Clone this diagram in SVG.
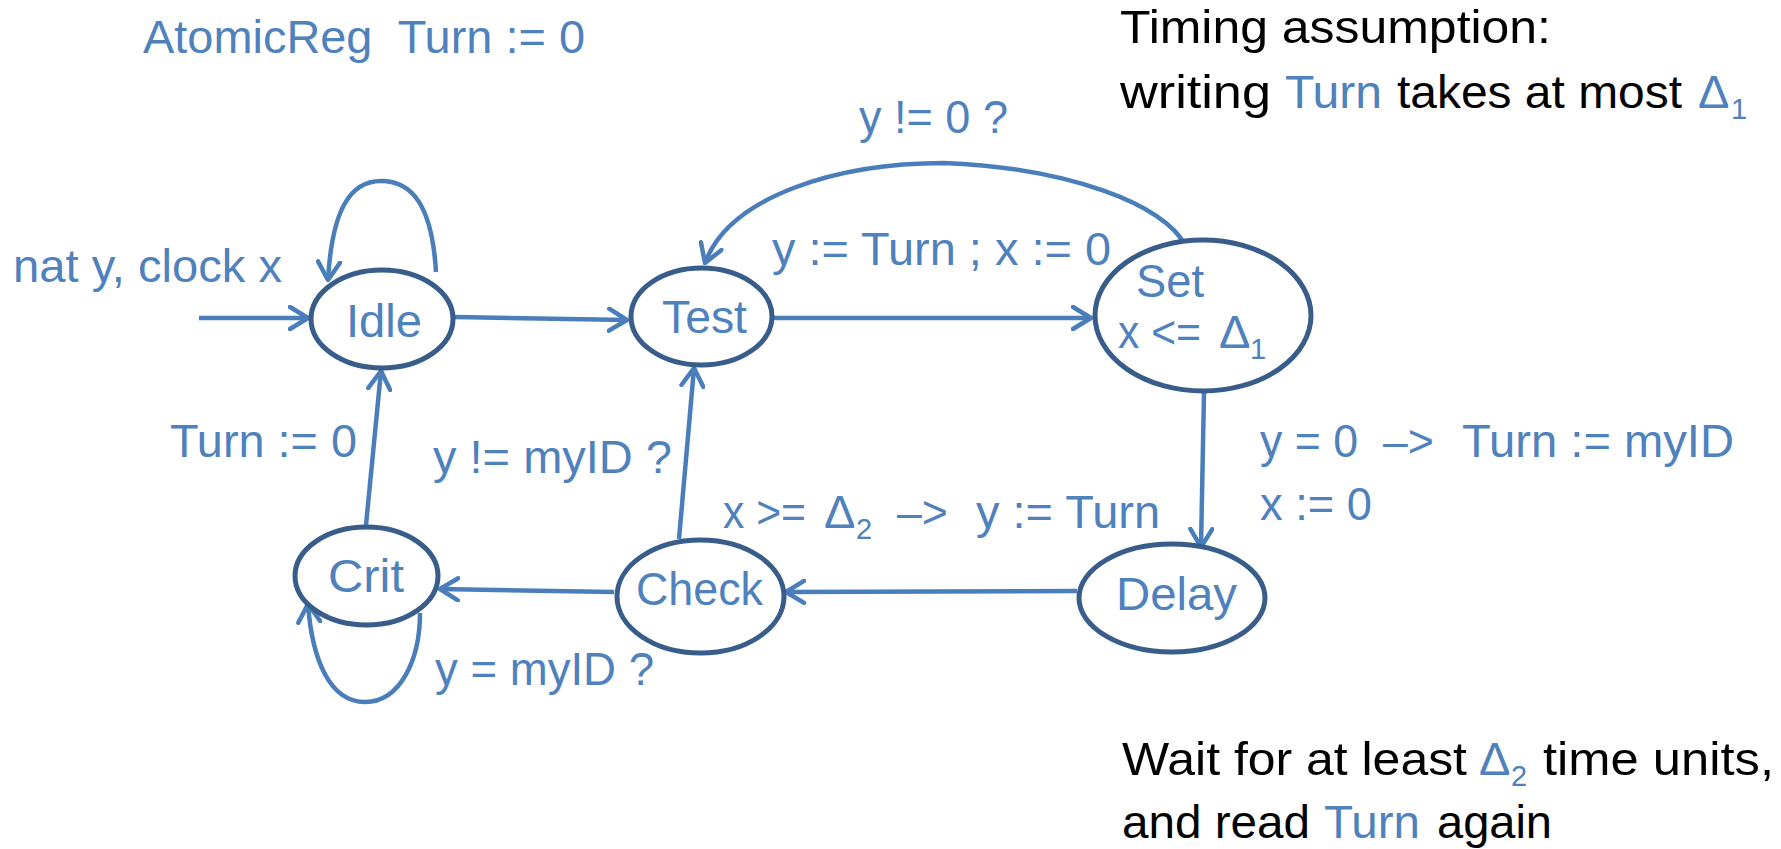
<svg xmlns="http://www.w3.org/2000/svg" width="1781" height="849" viewBox="0 0 1781 849">
<style>
text{font-family:"Liberation Sans",Arial,sans-serif;font-size:47px;white-space:pre;}
.b{fill:#4F81BD;}
.k{fill:#000000;}
.sub{font-size:29px;}
.node ellipse{fill:#FFFFFF;stroke:#385D8A;stroke-width:5;}
.edges path{fill:none;stroke:#4A7EBB;stroke-width:4.5;marker-end:url(#arr);}
</style>
<defs>
<marker id="arr" viewBox="0 0 22 26" refX="20" refY="13" markerWidth="22" markerHeight="26" markerUnits="userSpaceOnUse" orient="auto">
<path d="M2,2 L20,13 L2,24" fill="none" stroke="#4A7EBB" stroke-width="4.5" stroke-linecap="round" stroke-linejoin="round"/>
</marker>
</defs>
<rect width="1781" height="849" fill="#FFFFFF"/>

<g id="connectors" class="edges">
<path d="M199,318 L308,318"/>
<path d="M436,272 C432,205 412,181 381,181 C350,181 332,210 328,280"/>
<path d="M455,317 L627,320"/>
<path d="M1185,245 C1165,205 1070,168 944,163 C840,163 730,195 705,263"/>
<path d="M774,318 L1091,318"/>
<path d="M1204,393 L1201,547"/>
<path d="M1077,591 L786,592"/>
<path d="M614,592 L440,589"/>
<path d="M679,539 L694,368"/>
<path d="M366,525 L381,371"/>
<path d="M420,613 C420,660 400,702 365,702 C330,702 312,660 308,604"/>
</g>

<g id="node-idle" class="node">
<ellipse cx="382" cy="319" rx="71" ry="49"/>
<text class="b" x="346" y="337" textLength="76" lengthAdjust="spacingAndGlyphs">Idle</text>
</g>
<g id="node-test" class="node">
<ellipse cx="701.5" cy="316.5" rx="70.5" ry="48.5"/>
<text class="b" x="662" y="333" textLength="85" lengthAdjust="spacingAndGlyphs">Test</text>
</g>
<g id="node-set" class="node">
<ellipse cx="1203" cy="315.5" rx="108" ry="75.5"/>
<text class="b" x="1136" y="297" textLength="68" lengthAdjust="spacingAndGlyphs">Set</text>
<text class="b" y="348"><tspan x="1118" textLength="83" lengthAdjust="spacingAndGlyphs">x &lt;=</tspan> <tspan x="1219">Δ</tspan><tspan class="sub" x="1250" y="359">1</tspan></text>
</g>
<g id="node-crit" class="node">
<ellipse cx="366.5" cy="576" rx="71.5" ry="49"/>
<text class="b" x="328" y="592" textLength="76" lengthAdjust="spacingAndGlyphs">Crit</text>
</g>
<g id="node-check" class="node">
<ellipse cx="700.5" cy="596.5" rx="83.5" ry="56.5"/>
<text class="b" x="636" y="605" textLength="127" lengthAdjust="spacingAndGlyphs">Check</text>
</g>
<g id="node-delay" class="node">
<ellipse cx="1172" cy="598" rx="93" ry="54"/>
<text class="b" x="1116" y="610" textLength="121" lengthAdjust="spacingAndGlyphs">Delay</text>
</g>

<g id="labels">
<text class="b" x="143" y="53" textLength="442" lengthAdjust="spacingAndGlyphs">AtomicReg  Turn := 0</text>
<text class="k" x="1120" y="43" textLength="431" lengthAdjust="spacingAndGlyphs">Timing assumption:</text>
<text class="k" y="108"><tspan x="1120" textLength="151" lengthAdjust="spacingAndGlyphs">writing</tspan> <tspan class="b" x="1285" textLength="97" lengthAdjust="spacingAndGlyphs">Turn</tspan> <tspan x="1397" textLength="285" lengthAdjust="spacingAndGlyphs">takes at most</tspan> <tspan class="b" x="1698">Δ</tspan><tspan class="b sub" x="1731" y="119">1</tspan></text>
<text class="b" x="859" y="133" textLength="149" lengthAdjust="spacingAndGlyphs">y != 0 ?</text>
<text class="b" x="13" y="282" textLength="269" lengthAdjust="spacingAndGlyphs">nat y, clock x</text>
<text class="b" x="772" y="265" textLength="339" lengthAdjust="spacingAndGlyphs">y := Turn ; x := 0</text>
<text class="b" x="170" y="457" textLength="187" lengthAdjust="spacingAndGlyphs">Turn := 0</text>
<text class="b" x="433" y="473" textLength="239" lengthAdjust="spacingAndGlyphs">y != myID ?</text>
<text class="b" y="457"><tspan x="1260" textLength="98" lengthAdjust="spacingAndGlyphs">y = 0</tspan>  <tspan x="1383" textLength="51" lengthAdjust="spacingAndGlyphs">–&gt;</tspan>  <tspan x="1462" textLength="272" lengthAdjust="spacingAndGlyphs">Turn := myID</tspan></text>
<text class="b" x="1260" y="520" textLength="112" lengthAdjust="spacingAndGlyphs">x := 0</text>
<text class="b" y="528"><tspan x="723" textLength="83" lengthAdjust="spacingAndGlyphs">x &gt;=</tspan> <tspan x="824">Δ</tspan><tspan class="sub" x="856" y="539">2</tspan>  <tspan x="897" y="528" textLength="51" lengthAdjust="spacingAndGlyphs">–&gt;</tspan>  <tspan x="976" textLength="184" lengthAdjust="spacingAndGlyphs">y := Turn</tspan></text>
<text class="b" x="435" y="685" textLength="219" lengthAdjust="spacingAndGlyphs">y = myID ?</text>
<text class="k" y="775"><tspan x="1122" textLength="345" lengthAdjust="spacingAndGlyphs">Wait for at least</tspan> <tspan class="b" x="1479">Δ</tspan><tspan class="b sub" x="1511" y="786">2</tspan> <tspan x="1543" y="775" textLength="231" lengthAdjust="spacingAndGlyphs">time units,</tspan></text>
<text class="k" y="838"><tspan x="1122" textLength="188" lengthAdjust="spacingAndGlyphs">and read</tspan> <tspan class="b" x="1324" textLength="96" lengthAdjust="spacingAndGlyphs">Turn</tspan> <tspan x="1437" textLength="115" lengthAdjust="spacingAndGlyphs">again</tspan></text>
</g>
</svg>
